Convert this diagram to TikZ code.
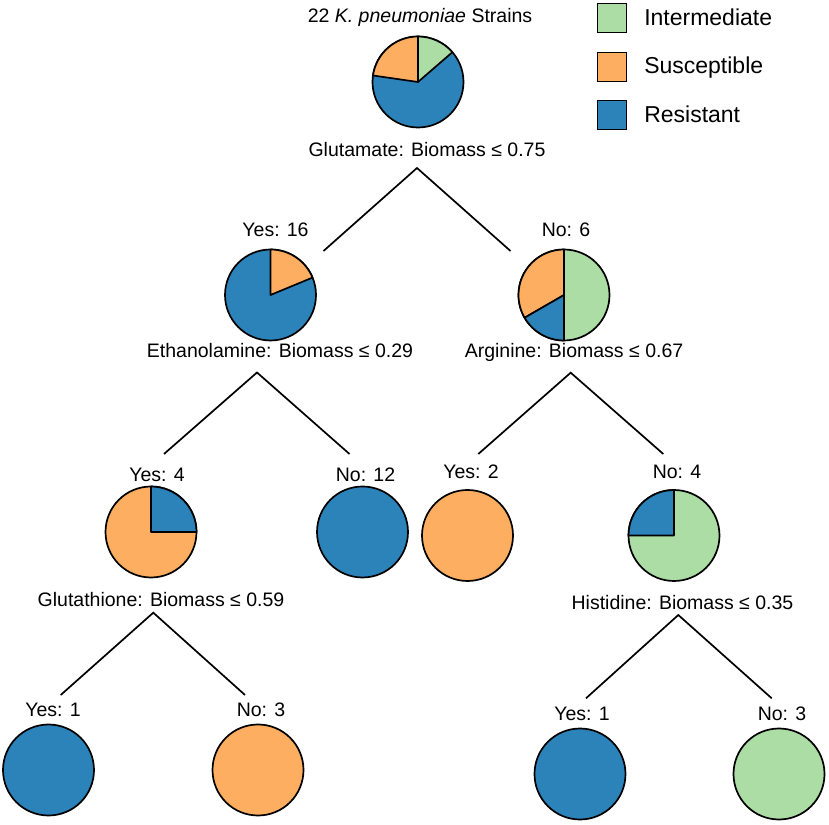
\documentclass[tikz,border=0pt]{standalone}
\usepackage{fontspec}
\setmainfont{Liberation Sans}
\usetikzlibrary{positioning}

\definecolor{inter}{HTML}{ABDDA4}
\definecolor{susc}{HTML}{FDAE61}
\definecolor{resist}{HTML}{2B83BA}

\begin{document}
\begin{tikzpicture}[
    x=1pt, y=1pt,
    % Node styles
    pie/.style={
        circle, draw, line width=1.7pt, minimum size=91pt, inner sep=0pt,
      },
    wedge/.style={
        draw, line width=1.7pt, line join=round,
      },
    count/.style={
        font=\fontsize{19.5pt}{23pt}\selectfont, anchor=base, inner sep=0pt,
      },
    split/.style={count},
    key/.style={
        rectangle, draw, line width=1.3pt, minimum size=29pt, inner sep=0pt,
      },
    key text/.style={
        font=\fontsize{23pt}{27pt}\selectfont, anchor=base west, inner sep=0pt,
      },
    % Edge style
    branch/.style={draw, line width=1.7pt},
  ]
  \useasboundingbox (0,0) rectangle (829,824);

  % --- Pies, from the root down ---
  \node[count] (title) at (420,801) {22 \textit{K. pneumoniae} Strains};
  \node[pie, fill=resist] (p22) at (418,742) {};

  \node[pie, fill=resist] (p16) at (270.5,529) {};
  \node[pie, fill=inter]  (p6)  at (564,529) {};

  \node[pie, fill=susc]   (p4)  at (151,292) {};
  \node[pie, fill=resist] (p12) at (362.5,292) {};
  \node[pie, fill=susc]   (p2)  at (467.5,288.5) {};
  \node[pie, fill=inter]  (p4b) at (674,288.5) {};

  \node[pie, fill=resist] (p1a) at (48.5,54) {};
  \node[pie, fill=susc]   (p3a) at (258,54) {};
  \node[pie, fill=resist] (p1b) at (580,50) {};
  \node[pie, fill=inter]  (p3b) at (779,50) {};

  % slices that are not the base colour
  \foreach \p/\col/\from/\to in {p22/inter/40.9/90, p22/susc/90/171.8,
      p16/susc/22.5/90, p6/susc/90/210, p6/resist/210/270,
      p4/resist/0/90, p4b/resist/90/180} {
      \filldraw[wedge, fill=\col] (\p.center) -- ++(\from:45.5pt)
        arc[start angle=\from, end angle=\to, radius=45.5pt] -- cycle;
    }

  % --- Counts above the pies ---
  \node[count] (yes16) at (275.5,587) {Yes: 16};
  \node[count] (no6)   at (566,587) {No: 6};
  \node[count] (yes4)  at (157,342) {Yes: 4};
  \node[count] (no12)  at (365.5,342) {No: 12};
  \node[count] (yes2)  at (471,345) {Yes: 2};
  \node[count] (no4)   at (677,345) {No: 4};
  \node[count] (yes1a) at (53,107) {Yes: 1};
  \node[count] (no3a)  at (261,107) {No: 3};
  \node[count] (yes1b) at (582,103) {Yes: 1};
  \node[count] (no3b)  at (782,103) {No: 3};

  % --- Split rules ---
  \node[split] (glu) at (427,667) {Glutamate: Biomass ≤ 0.75};
  \node[split] (eth) at (280,466) {Ethanolamine: Biomass ≤ 0.29};
  \node[split] (arg) at (574,466) {Arginine: Biomass ≤ 0.67};
  \node[split] (gsh) at (161,217) {Glutathione: Biomass ≤ 0.59};
  \node[split] (his) at (682.5,214.5) {Histidine: Biomass ≤ 0.35};

  % --- Branches ---
  \coordinate (a0) at (417,656);   \coordinate (a0l) at (323.5,573); \coordinate (a0r) at (510.5,573);
  \coordinate (a1) at (257,451.5); \coordinate (a1l) at (164,370);   \coordinate (a1r) at (349.5,370);
  \coordinate (a2) at (570.7,451.3); \coordinate (a2l) at (478.3,370); \coordinate (a2r) at (663.3,370);
  \coordinate (a3) at (153.3,211.3); \coordinate (a3l) at (60.7,129); \coordinate (a3r) at (245,129);
  \coordinate (a4) at (678.3,209); \coordinate (a4l) at (586,125.7); \coordinate (a4r) at (771.7,125.7);
  \foreach \a in {a0, a1, a2, a3, a4} {
      \draw[branch] (\a l) -- (\a) -- (\a r);
    }

  % --- Legend ---
  \foreach \cls/\col/\i in {Intermediate/inter/0, Susceptible/susc/1, Resistant/resist/2} {
      \node[key, fill=\col] (key\i) at (611.7,805.7-48.5*\i) {};
      \node[key text] (keytext\i) at ([xshift=17.2pt, yshift=-7pt]key\i.east) {\cls};
    }
\end{tikzpicture}
\end{document}
